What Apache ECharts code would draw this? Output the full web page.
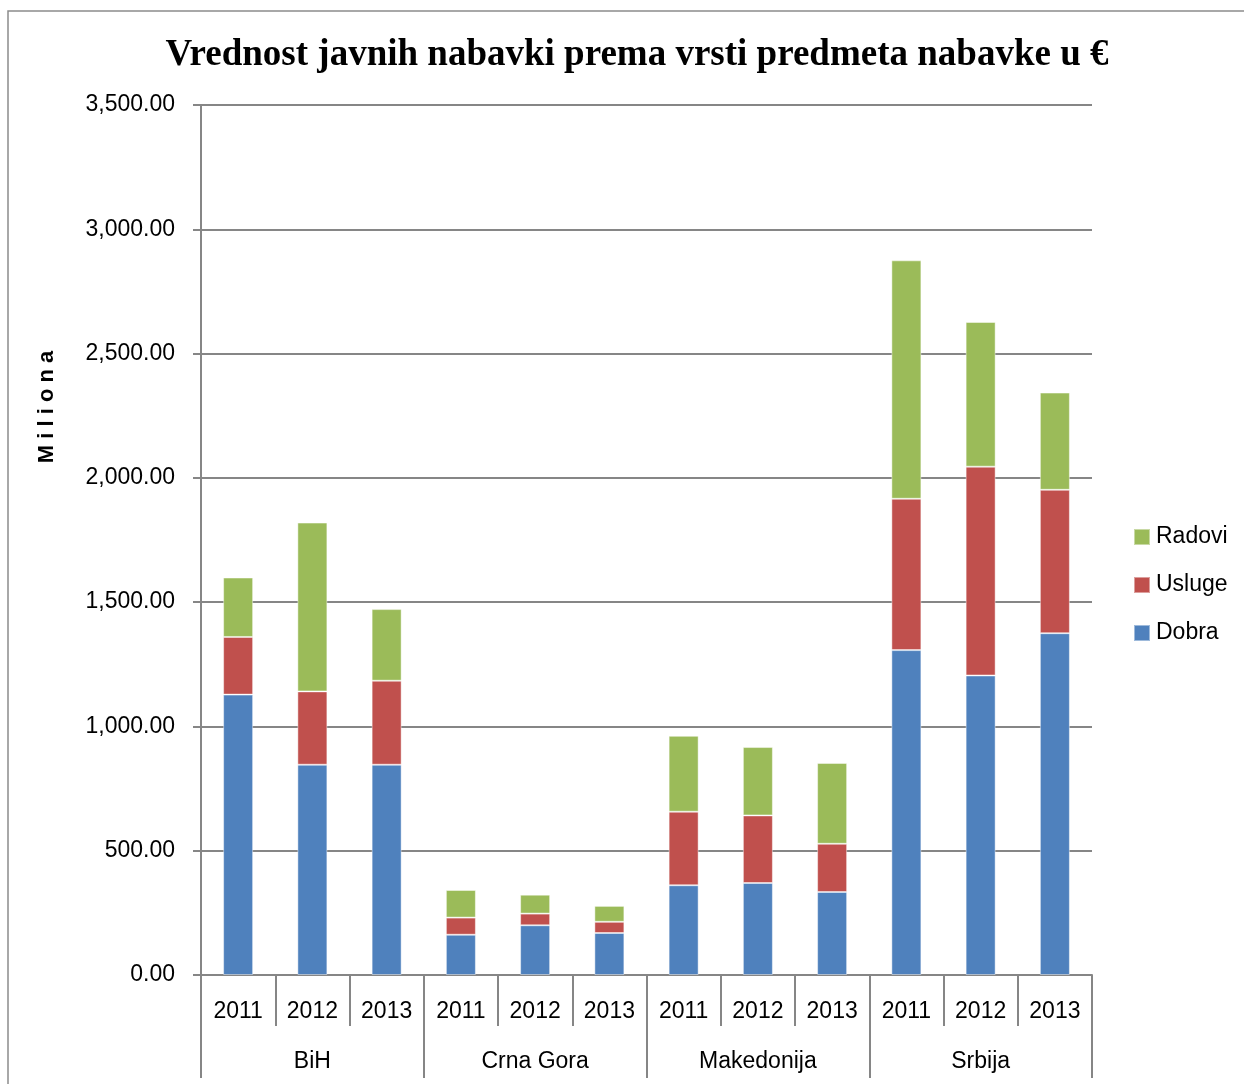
<!DOCTYPE html>
<html>
<head>
<meta charset="utf-8">
<title>Vrednost javnih nabavki</title>
<script src="https://cdn.jsdelivr.net/npm/echarts@6/dist/echarts.min.js"></script>
<style>
  html, body { margin: 0; padding: 0; background: #fff; }
  #chart { width: 1244px; height: 1084px; }
</style>
</head>
<body>
<div id="chart"></div>
<script>
// Countries and years of the grouped category axis
const countries = ['BiH', 'Crna Gora', 'Makedonija', 'Srbija'];
const years = ['2011', '2012', '2013'];

// Values in millions of euros, one entry per country/year pair
const dobra  = [1128, 846, 846,  162, 200, 169,  361, 370, 334,  1307, 1205, 1375];
const usluge = [232, 295, 338,   69, 47, 45,     296, 272, 194,  609, 840, 577];
const radovi = [239, 679, 288,   111, 76, 64,    305, 275, 325,  959, 582, 391];

const yTicks = { min: 0, max: 3500, interval: 500 };

const yearLabels = [];
countries.forEach(() => years.forEach(y => yearLabels.push(y)));

const gray = '#868686';
const labelFont = 'Liberation Sans';

const chart = echarts.init(document.getElementById('chart'));

const barSeries = (name, data, color) => ({
  name,
  type: 'bar',
  stack: 'total',
  data,
  barWidth: 30,
  itemStyle: { color, borderColor: 'rgba(255,255,255,0.45)', borderWidth: 1 },
  xAxisIndex: 0,
  yAxisIndex: 0
});

chart.setOption({
  animation: false,
  title: {
    text: 'Vrednost javnih nabavki prema vrsti predmeta nabavke u €',
    left: 632,
    top: 32,
    textAlign: 'center',
    textStyle: { fontFamily: 'Liberation Serif', fontWeight: 'bold', fontSize: 37, color: '#000' }
  },
  legend: {
    orient: 'vertical',
    left: 1128,
    top: 520,
    itemWidth: 16,
    itemHeight: 16,
    itemGap: 24,
    data: ['Radovi', 'Usluge', 'Dobra'],
    icon: 'rect',
    textStyle: { fontFamily: labelFont, fontSize: 23, color: '#000', lineHeight: 24, padding: [0, 0, 0, 1] }
  },
  grid: { left: 201, right: 152, top: 105, bottom: 109, containLabel: false },
  xAxis: [
    {
      type: 'category',
      data: yearLabels,
      position: 'bottom',
      axisLine: { lineStyle: { color: gray, width: 2 } },
      axisTick: { show: true, interval: 0, length: 51, lineStyle: { color: gray, width: 2 } },
      axisLabel: { interval: 0, margin: 25, fontFamily: labelFont, fontSize: 23, color: '#000' },
      splitLine: { show: false }
    },
    {
      type: 'category',
      data: countries,
      position: 'bottom',
      offset: 51,
      axisLine: { show: false },
      axisTick: { show: true, interval: 0, length: 52, lineStyle: { color: gray, width: 2 } },
      axisLabel: { interval: 0, margin: 24, fontFamily: labelFont, fontSize: 23, color: '#000' },
      splitLine: { show: false }
    }
  ],
  yAxis: {
    type: 'value',
    min: yTicks.min,
    max: yTicks.max,
    interval: yTicks.interval,
    axisLine: { show: true, lineStyle: { color: gray, width: 2 } },
    axisTick: { show: true, length: 8, lineStyle: { color: gray, width: 2 } },
    axisLabel: {
      margin: 26,
      fontFamily: labelFont,
      fontSize: 23,
      color: '#000',
      formatter: v => v.toLocaleString('en-US', { minimumFractionDigits: 2, maximumFractionDigits: 2 })
    },
    splitLine: { show: true, lineStyle: { color: gray, width: 2 } }
  },
  graphic: [
    {
      type: 'rect',
      shape: { x: 8, y: 11, width: 1400, height: 1200 },
      style: { fill: 'none', stroke: '#8c8c8c', lineWidth: 1.5 },
      silent: true,
      z: -1
    },
    {
      type: 'text',
      x: 47,
      y: 407,
      rotation: Math.PI / 2,
      style: {
        text: 'M i l i o n a',
        fontFamily: labelFont,
        fontWeight: 'bold',
        fontSize: 22,
        fill: '#000',
        align: 'center',
        verticalAlign: 'middle'
      }
    }
  ],
  series: [
    barSeries('Dobra', dobra, '#4F81BD'),
    barSeries('Usluge', usluge, '#C0504D'),
    barSeries('Radovi', radovi, '#9BBB59')
  ]
});
</script>
</body>
</html>
